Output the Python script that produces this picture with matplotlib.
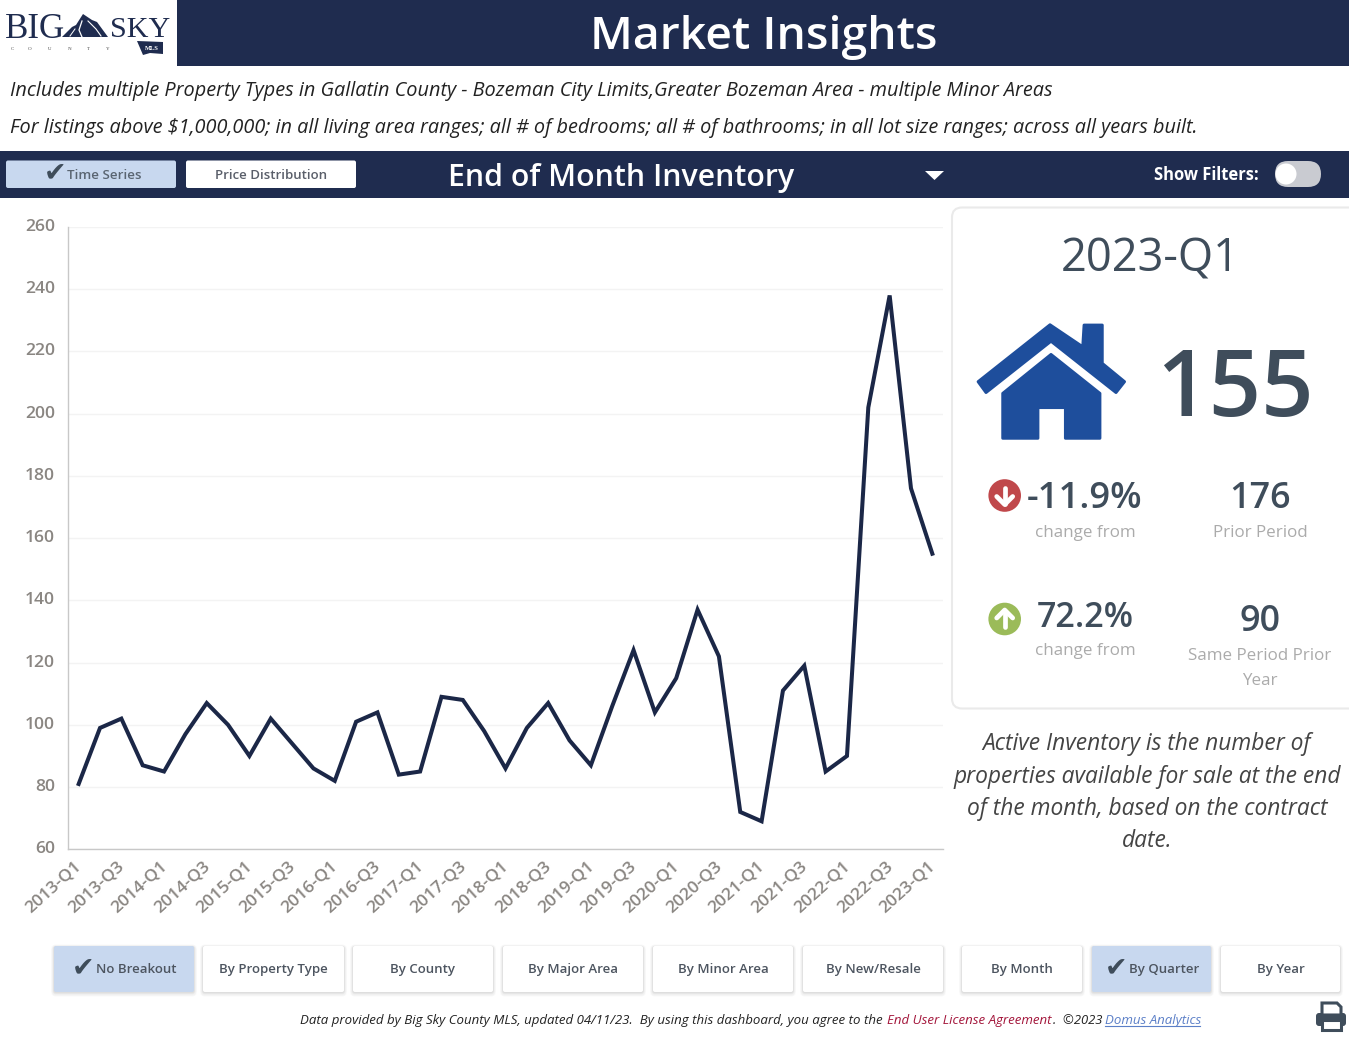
import matplotlib
matplotlib.use("Agg")
import matplotlib.pyplot as plt
from matplotlib.patches import FancyBboxPatch, Polygon, Circle, Rectangle
from matplotlib.transforms import ScaledTranslation

# ---- data ----
quarters = [f"{y}-Q{q}" for y in range(2013, 2023) for q in (1, 2, 3, 4)] + ["2023-Q1"]
inventory = [81, 99, 102, 87, 85, 97, 107, 100, 90, 102, 94, 86, 82, 101, 104, 84,
             85, 109, 108, 98, 86, 99, 107, 95, 87, 106, 124, 104, 115, 137, 122, 72,
             69, 111, 119, 85, 90, 202, 238, 176, 155]
y_ticks = [60, 80, 100, 120, 140, 160, 180, 200, 220, 240, 260]
breakout_buttons = ["No Breakout", "By Property Type", "By County", "By Major Area",
                    "By Minor Area", "By New/Resale"]
period_buttons = ["By Month", "By Quarter", "By Year"]

W, H = 1349, 1039
NAVY = "#1F2C4F"
LINE = "#1B2747"
BLUE = "#C8D8EF"
SLATE = "#3F4D5B"
GREY = "#ABABAB"
FONT = "Open Sans"
plt.rcParams["font.family"] = [FONT, "DejaVu Sans"]

fig = plt.figure(figsize=(W / 100, H / 100), dpi=100, facecolor="white")

# ---- chart ----
def rect(x0, y0, x1, y1):
    return [x0 / W, 1 - y1 / H, (x1 - x0) / W, (y1 - y0) / H]

ax = fig.add_axes(rect(68, 227, 943, 849.3))
ax.plot(range(len(inventory)), inventory, color=LINE, lw=2.9, solid_joinstyle="miter", zorder=3)
ax.set_xlim(-0.5, len(inventory) - 0.5)
ax.set_ylim(60, 260)
ax.set_yticks(y_ticks)
ax.set_xticks(range(0, len(quarters), 2))
ax.set_xticklabels(quarters[::2], rotation=42, ha="right", va="top", rotation_mode="anchor")
ax.tick_params(axis="y", length=0, pad=9.3, labelsize=12.6, labelcolor="#8A8682")
ax.tick_params(axis="x", length=0, pad=7, labelsize=12.5, labelcolor="#8A8682")
for lab in ax.get_yticklabels():
    lab.set_transform(lab.get_transform() + ScaledTranslation(0, 2 / 100, fig.dpi_scale_trans))
    lab.set_fontweight("semibold")
for lab in ax.get_xticklabels():
    lab.set_transform(lab.get_transform() + ScaledTranslation(-4.5 / 100, 1 / 100, fig.dpi_scale_trans))
    lab.set_fontweight("semibold")
ax.grid(axis="y", color="#F3F3F3", lw=1)
ax.set_axisbelow(True)
for s in ("top", "right"):
    ax.spines[s].set_visible(False)
for s in ("left", "bottom"):
    ax.spines[s].set_color("#C8C8C8")
    ax.spines[s].set_linewidth(1)

# ---- dashboard chrome in pixel coordinates ----
bg = fig.add_axes([0, 0, 1, 1], zorder=5)
bg.set_xlim(0, W)
bg.set_ylim(H, 0)
bg.axis("off")
bg.patch.set_alpha(0)

def t(x, y, s, size, color="black", ha="center", va="center", **kw):
    return bg.text(x, y + 0.09 * size, s, fontsize=size * 0.72, color=color, ha=ha, va=va, **kw)

def button(x0, y0, x1, y1, face, shadow=True, r=2):
    if shadow:
        for grow, off, a in ((3.0, 1.5, 0.03), (2.2, 1.5, 0.05), (1.3, 1, 0.07), (0.6, 0.7, 0.10)):
            bg.add_patch(FancyBboxPatch((x0 - grow, y0 - grow + off), x1 - x0 + 2 * grow, y1 - y0 + 2 * grow,
                                        boxstyle=f"round,pad=0,rounding_size={r + grow}",
                                        fc="#777777", ec="none", alpha=a))
    bg.add_patch(FancyBboxPatch((x0, y0), x1 - x0, y1 - y0,
                                boxstyle=f"round,pad=0,rounding_size={r}",
                                fc=face, ec="none"))

CHECK = "\u2714"

# bands
bg.add_patch(Rectangle((177, 0), W - 177, 65.5, fc=NAVY, ec="none"))
bg.add_patch(Rectangle((0, 151), W, 46.5, fc=NAVY, ec="none"))
t(763.5, 33, "Market Insights", 46.4, "white", fontweight="semibold")

# logo
t(5, 26.5, "BIG", 35, NAVY, ha="left", family="Liberation Serif")
t(110.5, 27, "SKY", 30, NAVY, ha="left", family="Liberation Serif")
bg.add_patch(Polygon([(62, 37), (72, 27), (76, 25), (83, 14), (92, 20), (97, 22), (108, 37)],
                     fc=NAVY, ec="none"))
bg.plot([82, 79, 82], [21, 30, 37], color="white", lw=0.9)
bg.plot([88, 96, 101], [21, 29, 36], color="white", lw=0.8)
bg.plot([70, 75], [36, 29], color="white", lw=0.7)
for x, c in zip((12, 30, 50, 70, 88, 108, 127), "COUNTY"):
    t(x, 49, c, 5, "#444444", family="Liberation Serif")
bg.add_patch(Polygon([(137, 41), (163, 42), (163, 54), (150, 53), (143, 55), (140, 48)],
                     fc=NAVY, ec="none"))
t(152, 47.5, "MLS", 6.5, "white", fontweight="bold", family="Liberation Serif")

# subtitle
t(10, 89, "Includes multiple Property Types in Gallatin County - Bozeman City Limits,Greater Bozeman Area - multiple Minor Areas",
  19.88, "#222222", ha="left", style="italic")
t(10, 126, "For listings above $1,000,000; in all living area ranges; all # of bedrooms; all # of bathrooms; in all lot size ranges; across all years built.",
  19.88, "#222222", ha="left", style="italic")

# control bar
button(6, 160.5, 176, 188, BLUE, shadow=False)
button(186, 160.5, 356, 188, "white", shadow=False)
t(55, 172, CHECK, 27, SLATE, family="DejaVu Sans")
t(67, 174, "Time Series", 13.4, "#5A6572", ha="left", fontweight="semibold")
t(271, 174, "Price Distribution", 13.3, "#5A5F6A", fontweight="semibold")
t(448, 175, "End of Month Inventory", 30.3, "white", ha="left", fontweight="semibold")
bg.add_patch(Polygon([(925, 171), (944, 171), (934.5, 180)], fc="white", ec="none"))
t(1259, 174, "Show Filters:", 16.5, "white", ha="right", fontweight="bold")
bg.add_patch(FancyBboxPatch((1275, 161), 46, 26, boxstyle="round,pad=0,rounding_size=13",
                            fc="#C9CBD1", ec="none"))
bg.add_patch(Circle((1286, 174), 10.5, fc="white", ec="none"))

# KPI card
bg.add_patch(FancyBboxPatch((952, 207.5), 420, 501, boxstyle="round,pad=0,rounding_size=10",
                            fc="white", ec="#EAEAEA", lw=1.5))
t(1150, 255, "2023-Q1", 45.3, SLATE)

def zp(points):
    return [(950 + x / 3, 200 + y / 3) for x, y in points]

HOUSE = "#1E4E9C"
bg.add_patch(Polygon(zp([(84, 545), (300, 374), (398, 440), (402, 375), (457, 375), (457, 490),
                         (524, 545), (498, 578), (303, 424), (108, 578)]),
                     fc=HOUSE, ec=HOUSE, lw=2, joinstyle="round"))
bg.add_patch(Polygon(zp([(158, 580), (303, 463), (450, 580), (450, 715), (346, 715), (346, 623),
                         (264, 623), (264, 715), (158, 715)]),
                     fc=HOUSE, ec=HOUSE, lw=2, joinstyle="round"))
t(1235, 384, "155", 92, SLATE, fontweight="semibold")

def arrow_badge(cx, cy, color, down):
    s = 1 if down else -1
    bg.add_patch(Circle((cx, cy), 16.3, fc=color, ec="none"))
    bg.plot([cx, cx], [cy - 8 * s, cy + 8 * s], color="white", lw=3.4, solid_capstyle="round")
    bg.plot([cx - 8, cx, cx + 8], [cy + 1 * s, cy + 9 * s, cy + 1 * s], color="white", lw=3.4,
            solid_capstyle="round", solid_joinstyle="round")

arrow_badge(1004.7, 495.5, "#C0484B", True)
arrow_badge(1004.7, 619, "#9BBB59", False)
t(1085, 496, "-11.9%", 36.5, SLATE, fontweight="semibold")
t(1260, 496, "176", 36, SLATE, fontweight="semibold")
t(1085, 531, "change from", 17, GREY)
t(1260, 531, "Prior Period", 17, GREY)
t(1085, 615, "72.2%", 34, SLATE, fontweight="semibold")
t(1260, 619, "90", 36, SLATE, fontweight="semibold")
t(1085, 649, "change from", 17, GREY)
t(1260, 654, "Same Period Prior", 17, GREY)
t(1260, 679, "Year", 17, GREY)

# description
for yy, s in zip((742, 775, 807, 839),
                 ("Active Inventory is the number of",
                  "properties available for sale at the end",
                  "of the month, based on the contract",
                  "date.")):
    t(1147, yy, s, 22.75, "#444444", style="italic")

# bottom buttons
b_x = [(54, 194), (203, 344), (353, 493), (503, 643), (653, 793), (803, 943)]
p_x = [(962, 1082), (1092, 1211), (1221, 1340)]
for (x0, x1), lab in zip(b_x, breakout_buttons):
    sel = lab == "No Breakout"
    button(x0, 946, x1, 992, BLUE if sel else "white")
    if sel:
        t(83.5, 967, CHECK, 27, SLATE, family="DejaVu Sans")
        t(96, 968.5, lab, 13.3, "#4D5560", ha="left", fontweight="semibold")
    else:
        t((x0 + x1) / 2, 968.5, lab, 13.3, "#4D5560", fontweight="semibold")
for (x0, x1), lab in zip(p_x, period_buttons):
    sel = lab == "By Quarter"
    button(x0, 946, x1, 992, BLUE if sel else "white")
    if sel:
        t(1116, 967, CHECK, 27, SLATE, family="DejaVu Sans")
        t(1129, 968.5, lab, 13.3, "#4D5560", ha="left", fontweight="semibold")
    else:
        t((x0 + x1) / 2, 968.5, lab, 13.3, "#4D5560", fontweight="semibold")

# footer
t(300, 1019, "Data provided by Big Sky County MLS, updated 04/11/23.  By using this dashboard, you agree to the",
  13.25, "#222222", ha="left", style="italic")
t(887, 1019, "End User License Agreement", 13.25, "#A3153A", ha="left", style="italic")
t(1053, 1019, ".  \u00a92023", 13, "#222222", ha="left", style="italic")
t(1105, 1019, "Domus Analytics", 13.25, "#5B7FC7", ha="left", style="italic")
bg.plot([1105, 1200], [1026, 1026], color="#5B7FC7", lw=0.8)

# printer icon
bg.add_patch(FancyBboxPatch((1316, 1013), 30, 13, boxstyle="round,pad=0,rounding_size=3",
                            fc=SLATE, ec="none"))
bg.add_patch(Polygon([(1322, 1003), (1337, 1003), (1341, 1007), (1341, 1015), (1322, 1015)],
                     fc="white", ec=SLATE, lw=2.2))
bg.add_patch(Rectangle((1322, 1020), 19, 10, fc="white", ec=SLATE, lw=2.2))

fig.savefig("out.png", dpi=100, facecolor="white")
